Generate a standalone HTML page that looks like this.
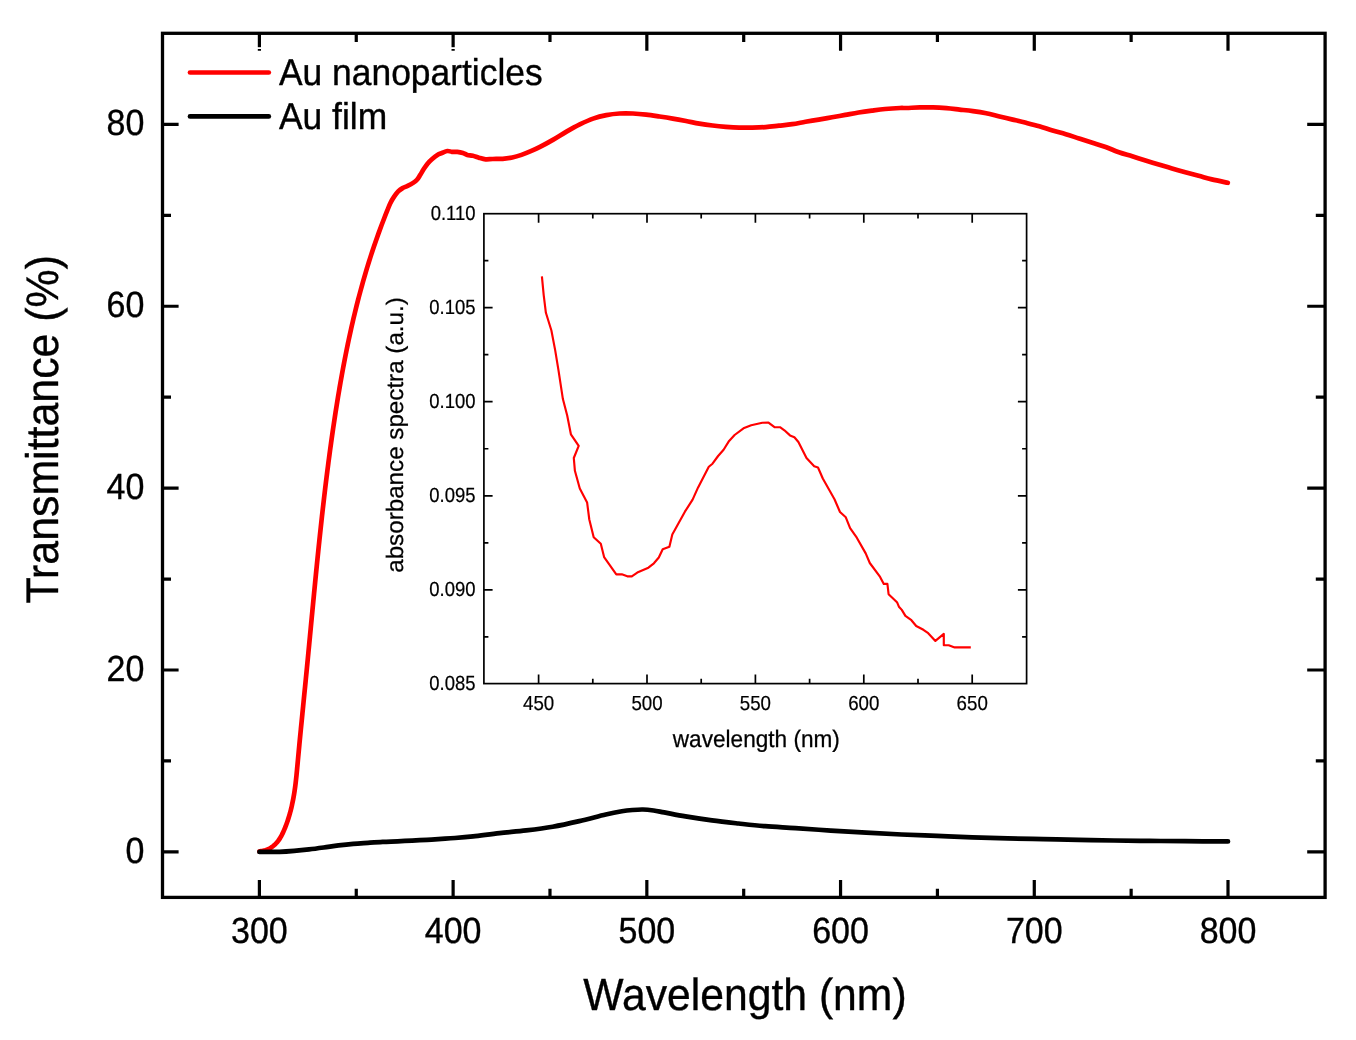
<!DOCTYPE html>
<html lang="en"><head><meta charset="utf-8"><title>Transmittance spectra</title>
<style>html,body{margin:0;padding:0;background:#fff}body{width:1356px;height:1040px;overflow:hidden}svg{display:block}text{font-family:"Liberation Sans",Arial,sans-serif;fill:#000;text-rendering:geometricPrecision}</style></head><body>
<svg width="1356" height="1040" viewBox="0 0 1356 1040">
<rect width="1356" height="1040" fill="#fff"/>
<path d="M259.40 897.40 V880.00 M259.40 33.30 V50.70 M356.26 897.40 V888.70 M356.26 33.30 V42.00 M453.12 897.40 V880.00 M453.12 33.30 V50.70 M549.98 897.40 V888.70 M549.98 33.30 V42.00 M646.84 897.40 V880.00 M646.84 33.30 V50.70 M743.70 897.40 V888.70 M743.70 33.30 V42.00 M840.56 897.40 V880.00 M840.56 33.30 V50.70 M937.42 897.40 V888.70 M937.42 33.30 V42.00 M1034.28 897.40 V880.00 M1034.28 33.30 V50.70 M1131.14 897.40 V888.70 M1131.14 33.30 V42.00 M1228.00 897.40 V880.00 M1228.00 33.30 V50.70 M162.50 851.90 H178.60 M1325.10 851.90 H1307.20 M162.50 760.96 H171.00 M1325.10 760.96 H1315.80 M162.50 670.02 H178.60 M1325.10 670.02 H1307.20 M162.50 579.08 H171.00 M1325.10 579.08 H1315.80 M162.50 488.14 H178.60 M1325.10 488.14 H1307.20 M162.50 397.20 H171.00 M1325.10 397.20 H1315.80 M162.50 306.26 H178.60 M1325.10 306.26 H1307.20 M162.50 215.32 H171.00 M1325.10 215.32 H1315.80 M162.50 124.38 H178.60 M1325.10 124.38 H1307.20" stroke="#000" stroke-width="3.2" fill="none"/>
<rect x="250" y="47.2" width="220" height="1.8" fill="#fff"/>
<rect x="162.50" y="33.30" width="1162.60" height="864.10" fill="none" stroke="#000" stroke-width="3.30"/>
<path d="M259.40 851.30 C259.67 851.28 260.49 851.23 261.02 851.17 C261.55 851.11 262.08 851.04 262.59 850.94 C263.11 850.85 263.61 850.74 264.11 850.62 C264.60 850.50 265.09 850.36 265.57 850.21 C266.05 850.06 266.52 849.89 266.98 849.71 C267.44 849.53 267.90 849.33 268.34 849.13 C268.79 848.92 269.22 848.70 269.65 848.46 C270.08 848.23 270.49 847.98 270.90 847.73 C271.31 847.47 271.71 847.20 272.10 846.92 C272.50 846.64 272.88 846.34 273.25 846.04 C273.63 845.74 273.99 845.43 274.35 845.10 C274.71 844.78 275.06 844.45 275.40 844.10 C275.74 843.76 276.07 843.41 276.39 843.05 C276.71 842.69 277.03 842.32 277.33 841.95 C277.64 841.57 277.94 841.19 278.23 840.80 C278.52 840.40 278.80 840.01 279.07 839.60 C279.35 839.20 279.62 838.78 279.88 838.37 C280.14 837.95 280.40 837.53 280.64 837.10 C280.89 836.67 281.14 836.24 281.37 835.80 C281.61 835.36 281.84 834.92 282.07 834.47 C282.30 834.02 282.52 833.57 282.74 833.12 C282.95 832.67 283.17 832.21 283.37 831.75 C283.58 831.29 283.79 830.83 283.99 830.36 C284.19 829.90 284.39 829.43 284.58 828.97 C284.77 828.50 284.96 828.03 285.15 827.56 C285.34 827.09 285.53 826.62 285.71 826.15 C285.89 825.68 286.07 825.21 286.25 824.73 C286.42 824.26 286.60 823.78 286.77 823.31 C286.94 822.83 287.11 822.36 287.27 821.88 C287.44 821.40 287.60 820.93 287.76 820.45 C287.92 819.97 288.08 819.49 288.23 819.01 C288.39 818.53 288.54 818.05 288.69 817.56 C288.84 817.08 288.99 816.60 289.13 816.12 C289.28 815.63 289.42 815.15 289.56 814.66 C289.70 814.18 289.83 813.69 289.97 813.21 C290.10 812.72 290.23 812.23 290.36 811.75 C290.49 811.26 290.62 810.77 290.75 810.28 C290.87 809.79 290.99 809.31 291.11 808.82 C291.24 808.33 291.35 807.84 291.47 807.35 C291.59 806.86 291.49 807.40 291.81 805.88 C292.13 804.36 292.91 800.78 293.38 798.23 C293.85 795.68 294.26 793.13 294.64 790.57 C295.02 788.01 295.35 785.46 295.65 782.90 C295.96 780.35 296.23 777.79 296.50 775.23 C296.76 772.67 296.99 770.11 297.23 767.55 C297.47 764.99 297.70 762.43 297.94 759.87 C298.17 757.31 298.41 754.75 298.65 752.19 C298.89 749.62 299.14 747.06 299.38 744.50 C299.62 741.93 299.87 739.37 300.12 736.80 C300.37 734.24 300.62 731.67 300.87 729.10 C301.12 726.54 301.37 723.97 301.63 721.40 C301.88 718.83 302.13 716.26 302.39 713.69 C302.64 711.13 302.90 708.56 303.16 705.98 C303.41 703.41 303.67 700.84 303.92 698.27 C304.18 695.70 304.44 693.12 304.69 690.55 C304.95 687.98 305.20 685.40 305.46 682.83 C305.71 680.25 305.96 677.68 306.22 675.10 C306.47 672.52 306.72 669.95 306.97 667.37 C307.22 664.79 307.47 662.21 307.72 659.63 C307.97 657.06 308.22 654.48 308.46 651.90 C308.71 649.32 308.96 646.74 309.20 644.16 C309.45 641.57 309.70 638.99 309.94 636.41 C310.19 633.83 310.44 631.25 310.68 628.67 C310.93 626.08 311.17 623.50 311.42 620.92 C311.67 618.34 311.91 615.75 312.16 613.17 C312.41 610.59 312.65 608.00 312.90 605.42 C313.15 602.84 313.40 600.25 313.65 597.67 C313.89 595.09 314.14 592.50 314.40 589.92 C314.65 587.33 314.90 584.75 315.15 582.17 C315.40 579.58 315.66 577.00 315.91 574.42 C316.17 571.83 316.43 569.25 316.68 566.67 C316.94 564.09 317.20 561.50 317.46 558.92 C317.73 556.34 317.99 553.76 318.25 551.17 C318.52 548.59 318.79 546.01 319.06 543.43 C319.33 540.85 319.60 538.27 319.87 535.69 C320.14 533.11 320.42 530.53 320.70 527.95 C320.98 525.37 321.26 522.79 321.54 520.21 C321.83 517.63 322.11 515.06 322.40 512.48 C322.69 509.90 322.98 507.33 323.28 504.75 C323.57 502.17 323.87 499.60 324.17 497.03 C324.47 494.45 324.78 491.88 325.09 489.31 C325.40 486.73 325.71 484.16 326.02 481.59 C326.34 479.02 326.66 476.45 326.98 473.88 C327.30 471.31 327.63 468.75 327.96 466.18 C328.29 463.61 328.62 461.05 328.96 458.48 C329.30 455.92 329.64 453.35 329.99 450.79 C330.34 448.23 330.69 445.67 331.05 443.11 C331.40 440.55 331.76 437.99 332.13 435.43 C332.49 432.87 332.86 430.32 333.24 427.76 C333.62 425.21 334.00 422.66 334.38 420.10 C334.77 417.55 335.16 415.00 335.55 412.45 C335.95 409.90 336.35 407.35 336.76 404.81 C337.16 402.26 337.58 399.72 338.00 397.18 C338.41 394.63 338.84 392.09 339.27 389.55 C339.70 387.01 340.14 384.47 340.59 381.94 C341.03 379.40 341.48 376.87 341.94 374.33 C342.40 371.80 342.87 369.27 343.34 366.74 C343.82 364.21 344.30 361.68 344.79 359.16 C345.28 356.63 345.78 354.11 346.28 351.59 C346.79 349.07 347.31 346.55 347.83 344.03 C348.36 341.51 348.89 339.00 349.43 336.48 C349.98 333.97 350.53 331.46 351.09 328.95 C351.65 326.44 352.23 323.94 352.81 321.43 C353.39 318.93 353.98 316.42 354.59 313.93 C355.19 311.43 355.80 308.93 356.43 306.43 C357.05 303.94 357.69 301.44 358.34 298.95 C358.99 296.46 359.64 293.98 360.32 291.49 C360.99 289.00 361.67 286.52 362.36 284.04 C363.06 281.56 363.77 279.08 364.49 276.61 C365.21 274.13 365.94 271.66 366.68 269.19 C367.43 266.72 368.19 264.25 368.96 261.79 C369.73 259.32 370.52 256.86 371.32 254.40 C372.12 251.94 372.93 249.49 373.76 247.03 C374.59 244.58 375.43 242.13 376.29 239.68 C377.14 237.23 378.02 234.79 378.90 232.35 C379.79 229.91 380.69 227.47 381.61 225.03 C382.53 222.60 383.46 220.17 384.41 217.74 C385.36 215.31 386.32 212.88 387.31 210.46 C388.29 208.04 389.13 205.54 390.30 203.20 C391.47 200.86 392.98 198.37 394.30 196.40 C395.62 194.43 396.82 192.78 398.20 191.40 C399.58 190.02 401.03 189.02 402.60 188.10 C404.17 187.18 405.85 186.77 407.60 185.90 C409.35 185.03 411.53 183.92 413.10 182.90 C414.67 181.88 415.80 181.15 417.00 179.80 C418.20 178.45 419.20 176.55 420.30 174.80 C421.40 173.05 422.40 171.15 423.60 169.30 C424.80 167.45 426.12 165.37 427.50 163.70 C428.88 162.03 430.25 160.77 431.90 159.30 C433.55 157.83 435.73 155.95 437.40 154.90 C439.07 153.85 440.23 153.65 441.90 153.00 C443.57 152.35 445.75 151.20 447.40 151.00 C449.05 150.80 450.15 151.65 451.80 151.80 C453.45 151.95 455.45 151.70 457.30 151.90 C459.15 152.10 461.23 152.50 462.90 153.00 C464.57 153.50 465.65 154.45 467.30 154.90 C468.95 155.35 470.87 155.23 472.80 155.70 C474.73 156.17 476.77 157.10 478.90 157.70 C481.03 158.30 483.30 159.08 485.60 159.30 C487.90 159.52 489.85 159.08 492.70 159.00 C495.55 158.92 499.43 159.05 502.70 158.80 C505.97 158.55 509.17 158.15 512.30 157.50 C515.43 156.85 518.42 155.95 521.50 154.90 C524.58 153.85 527.72 152.53 530.80 151.20 C533.88 149.87 536.25 148.83 540.00 146.90 C543.75 144.97 548.88 142.15 553.30 139.60 C557.72 137.05 562.08 134.13 566.50 131.60 C570.92 129.07 575.37 126.57 579.80 124.40 C584.23 122.23 588.67 120.15 593.10 118.60 C597.53 117.05 601.98 115.95 606.40 115.10 C610.82 114.25 615.18 113.77 619.60 113.50 C624.02 113.23 628.47 113.32 632.90 113.50 C637.33 113.68 641.77 114.10 646.20 114.60 C650.63 115.10 655.08 115.83 659.50 116.50 C663.92 117.17 668.28 117.85 672.70 118.60 C677.12 119.35 681.57 120.17 686.00 121.00 C690.43 121.83 694.87 122.85 699.30 123.60 C703.73 124.35 708.18 124.97 712.60 125.50 C717.02 126.03 721.38 126.45 725.80 126.80 C730.22 127.15 734.67 127.47 739.10 127.60 C743.53 127.73 747.98 127.68 752.40 127.60 C756.82 127.52 761.18 127.42 765.60 127.10 C770.02 126.78 774.47 126.18 778.90 125.70 C783.33 125.22 787.77 124.85 792.20 124.20 C796.63 123.55 801.08 122.57 805.50 121.80 C809.92 121.03 814.28 120.35 818.70 119.60 C823.12 118.85 827.57 118.08 832.00 117.30 C836.43 116.52 840.87 115.70 845.30 114.90 C849.73 114.10 854.18 113.22 858.60 112.50 C863.02 111.78 867.38 111.18 871.80 110.60 C876.22 110.02 880.40 109.43 885.10 109.00 C889.80 108.57 896.43 108.17 900.00 108.00 C903.57 107.83 903.20 108.10 906.50 108.00 C909.80 107.90 915.37 107.50 919.80 107.40 C924.23 107.30 928.67 107.27 933.10 107.40 C937.53 107.53 941.98 107.83 946.40 108.20 C950.82 108.57 955.18 109.12 959.60 109.60 C964.02 110.08 968.47 110.48 972.90 111.10 C977.33 111.72 981.77 112.40 986.20 113.30 C990.63 114.20 995.08 115.45 999.50 116.50 C1003.92 117.55 1008.28 118.55 1012.70 119.60 C1017.12 120.65 1021.57 121.68 1026.00 122.80 C1030.43 123.92 1034.87 125.02 1039.30 126.30 C1043.73 127.58 1048.18 129.18 1052.60 130.50 C1057.02 131.82 1061.38 132.87 1065.80 134.20 C1070.22 135.53 1074.67 137.08 1079.10 138.50 C1083.53 139.92 1087.98 141.28 1092.40 142.70 C1096.82 144.12 1101.18 145.40 1105.60 147.00 C1110.02 148.60 1114.47 150.75 1118.90 152.30 C1123.33 153.85 1127.77 154.93 1132.20 156.30 C1136.63 157.67 1141.08 159.13 1145.50 160.50 C1149.92 161.87 1154.28 163.17 1158.70 164.50 C1163.12 165.83 1167.57 167.22 1172.00 168.50 C1176.43 169.78 1180.87 171.00 1185.30 172.20 C1189.73 173.40 1194.18 174.50 1198.60 175.70 C1203.02 176.90 1206.93 178.22 1211.80 179.40 C1216.67 180.58 1225.13 182.23 1227.80 182.80" fill="none" stroke="#ff0000" stroke-width="4.7" stroke-linecap="round" stroke-linejoin="round"/>
<path d="M259.40 851.90 C261.17 851.90 266.65 851.90 270.00 851.90 C273.35 851.90 275.47 852.07 279.50 851.90 C283.53 851.73 289.28 851.32 294.20 850.90 C299.12 850.48 304.08 849.97 309.00 849.40 C313.92 848.83 318.78 848.17 323.70 847.50 C328.62 846.83 333.58 846.02 338.50 845.40 C343.42 844.78 348.28 844.23 353.20 843.80 C358.12 843.37 363.08 843.12 368.00 842.80 C372.92 842.48 377.78 842.15 382.70 841.90 C387.62 841.65 392.58 841.52 397.50 841.30 C402.42 841.08 407.28 840.85 412.20 840.60 C417.12 840.35 422.08 840.08 427.00 839.80 C431.92 839.52 437.03 839.20 441.70 838.90 C446.37 838.60 449.77 838.43 455.00 838.00 C460.23 837.57 465.67 837.12 473.10 836.30 C480.53 835.48 490.75 834.08 499.60 833.10 C508.45 832.12 517.35 831.47 526.20 830.40 C535.05 829.33 543.85 828.25 552.70 826.70 C561.55 825.15 570.45 823.13 579.30 821.10 C588.15 819.07 598.72 816.13 605.80 814.50 C612.88 812.87 617.37 812.05 621.80 811.30 C626.23 810.55 628.87 810.30 632.40 810.00 C635.93 809.70 639.47 809.42 643.00 809.50 C646.53 809.58 650.07 810.02 653.60 810.50 C657.13 810.98 658.88 811.42 664.20 812.40 C669.52 813.38 677.53 815.07 685.50 816.40 C693.47 817.73 703.15 819.22 712.00 820.40 C720.85 821.58 729.75 822.53 738.60 823.50 C747.45 824.47 755.63 825.43 765.10 826.20 C774.57 826.97 784.45 827.37 795.40 828.10 C806.35 828.83 819.00 829.83 830.80 830.60 C842.60 831.37 854.40 832.05 866.20 832.70 C878.00 833.35 889.80 833.97 901.60 834.50 C913.40 835.03 925.20 835.43 937.00 835.90 C948.80 836.37 960.60 836.88 972.40 837.30 C984.20 837.72 996.00 838.10 1007.80 838.40 C1019.60 838.70 1031.40 838.87 1043.20 839.10 C1055.00 839.33 1066.80 839.57 1078.60 839.80 C1090.40 840.03 1102.20 840.32 1114.00 840.50 C1125.80 840.68 1137.60 840.78 1149.40 840.90 C1161.20 841.02 1171.70 841.12 1184.80 841.20 C1197.90 841.28 1220.80 841.37 1228.00 841.40" fill="none" stroke="#000" stroke-width="4.7" stroke-linecap="round" stroke-linejoin="round"/>
<path d="M190 72.5 H268.8" stroke="#ff0000" stroke-width="4.7" stroke-linecap="round"/>
<path d="M190 116.4 H268.8" stroke="#000" stroke-width="4.7" stroke-linecap="round"/>
<text transform="translate(279.00 84.80) scale(1.0000 1.0550)" font-size="35.40" text-anchor="start" stroke="#000" stroke-width="0.35">Au nanoparticles</text>
<text transform="translate(279.00 128.70) scale(1.0000 1.0550)" font-size="35.40" text-anchor="start" stroke="#000" stroke-width="0.35">Au film</text>
<text transform="translate(144.30 862.80) scale(1.0000 1.0700)" font-size="34.00" text-anchor="end" stroke="#000" stroke-width="0.35">0</text>
<text transform="translate(144.30 680.92) scale(1.0000 1.0700)" font-size="34.00" text-anchor="end" stroke="#000" stroke-width="0.35">20</text>
<text transform="translate(144.30 499.04) scale(1.0000 1.0700)" font-size="34.00" text-anchor="end" stroke="#000" stroke-width="0.35">40</text>
<text transform="translate(144.30 317.16) scale(1.0000 1.0700)" font-size="34.00" text-anchor="end" stroke="#000" stroke-width="0.35">60</text>
<text transform="translate(144.30 135.28) scale(1.0000 1.0700)" font-size="34.00" text-anchor="end" stroke="#000" stroke-width="0.35">80</text>
<text transform="translate(259.40 942.80) scale(1.0000 1.0700)" font-size="34.00" text-anchor="middle" stroke="#000" stroke-width="0.35">300</text>
<text transform="translate(453.12 942.80) scale(1.0000 1.0700)" font-size="34.00" text-anchor="middle" stroke="#000" stroke-width="0.35">400</text>
<text transform="translate(646.84 942.80) scale(1.0000 1.0700)" font-size="34.00" text-anchor="middle" stroke="#000" stroke-width="0.35">500</text>
<text transform="translate(840.56 942.80) scale(1.0000 1.0700)" font-size="34.00" text-anchor="middle" stroke="#000" stroke-width="0.35">600</text>
<text transform="translate(1034.28 942.80) scale(1.0000 1.0700)" font-size="34.00" text-anchor="middle" stroke="#000" stroke-width="0.35">700</text>
<text transform="translate(1228.00 942.80) scale(1.0000 1.0700)" font-size="34.00" text-anchor="middle" stroke="#000" stroke-width="0.35">800</text>
<text transform="translate(744.90 1010.10) scale(1.0000 1.0550)" font-size="42.70" text-anchor="middle" stroke="#000" stroke-width="0.35">Wavelength (nm)</text>
<text transform="translate(58.20 429.30) rotate(-90) scale(1.0000 1.0640)" font-size="42.87" text-anchor="middle" stroke="#000" stroke-width="0.35">Transmittance (%)</text>
<rect x="483.90" y="213.70" width="542.70" height="469.90" fill="#fff" stroke="none"/>
<path d="M538.60 683.60 V674.60 M538.60 213.70 V222.70 M592.80 683.60 V678.80 M592.80 213.70 V218.50 M647.00 683.60 V674.60 M647.00 213.70 V222.70 M701.20 683.60 V678.80 M701.20 213.70 V218.50 M755.40 683.60 V674.60 M755.40 213.70 V222.70 M809.60 683.60 V678.80 M809.60 213.70 V218.50 M863.80 683.60 V674.60 M863.80 213.70 V222.70 M918.00 683.60 V678.80 M918.00 213.70 V218.50 M972.20 683.60 V674.60 M972.20 213.70 V222.70 M483.90 636.95 H488.40 M1026.60 636.95 H1022.10 M483.90 589.90 H492.60 M1026.60 589.90 H1017.90 M483.90 542.85 H488.40 M1026.60 542.85 H1022.10 M483.90 495.80 H492.60 M1026.60 495.80 H1017.90 M483.90 448.75 H488.40 M1026.60 448.75 H1022.10 M483.90 401.70 H492.60 M1026.60 401.70 H1017.90 M483.90 354.65 H488.40 M1026.60 354.65 H1022.10 M483.90 307.60 H492.60 M1026.60 307.60 H1017.90 M483.90 260.55 H488.40 M1026.60 260.55 H1022.10" stroke="#000" stroke-width="1.7" fill="none"/>
<rect x="483.90" y="213.70" width="542.70" height="469.90" fill="none" stroke="#000" stroke-width="1.70"/>
<path d="M541.90 276.30 L543.70 295.10 L545.90 312.80 L551.40 330.50 L555.20 350.40 L558.50 370.40 L562.90 399.10 L567.20 415.50 L570.90 434.30 L578.70 445.80 L573.80 458.00 L574.90 470.80 L579.80 488.50 L587.10 502.40 L589.30 519.50 L593.70 537.20 L600.80 543.80 L604.10 557.10 L616.30 574.30 L621.80 574.30 L627.30 576.30 L631.80 576.30 L637.30 572.60 L648.40 567.70 L653.90 563.30 L658.80 557.50 L662.70 549.30 L669.40 546.70 L672.30 534.50 L684.90 511.70 L692.60 499.60 L698.10 487.40 L708.80 466.80 L712.50 463.70 L718.10 456.00 L723.60 449.80 L729.10 440.90 L734.60 435.00 L743.50 428.30 L751.20 425.20 L762.30 422.80 L768.50 422.60 L774.50 427.20 L780.00 427.20 L784.40 430.30 L790.00 435.40 L794.40 437.20 L798.40 442.00 L806.50 458.00 L814.20 466.30 L818.00 467.50 L822.80 478.50 L834.50 499.30 L840.00 512.00 L845.80 517.30 L850.10 528.10 L856.80 537.70 L865.70 553.40 L869.80 563.00 L880.10 576.90 L883.80 583.90 L887.40 583.90 L888.60 594.20 L897.00 602.20 L898.90 606.70 L901.80 609.90 L905.40 615.90 L911.40 620.20 L916.20 626.00 L923.40 629.80 L928.20 633.20 L935.40 640.90 L943.80 633.90 L943.80 645.20 L948.70 645.20 L954.70 647.40 L970.80 647.40" fill="none" stroke="#ff0000" stroke-width="2.15" stroke-linejoin="round" stroke-linecap="butt"/>
<text transform="translate(475.50 690.30) scale(1.0000 1.1050)" font-size="18.45" text-anchor="end" stroke="#000" stroke-width="0.20">0.085</text>
<text transform="translate(475.50 596.20) scale(1.0000 1.1050)" font-size="18.45" text-anchor="end" stroke="#000" stroke-width="0.20">0.090</text>
<text transform="translate(475.50 502.10) scale(1.0000 1.1050)" font-size="18.45" text-anchor="end" stroke="#000" stroke-width="0.20">0.095</text>
<text transform="translate(475.50 408.00) scale(1.0000 1.1050)" font-size="18.45" text-anchor="end" stroke="#000" stroke-width="0.20">0.100</text>
<text transform="translate(475.50 313.90) scale(1.0000 1.1050)" font-size="18.45" text-anchor="end" stroke="#000" stroke-width="0.20">0.105</text>
<text transform="translate(475.50 219.80) scale(1.0000 1.1050)" font-size="18.45" text-anchor="end" stroke="#000" stroke-width="0.20">0.110</text>
<text transform="translate(538.60 709.60) scale(1.0000 1.0900)" font-size="18.70" text-anchor="middle" stroke="#000" stroke-width="0.20">450</text>
<text transform="translate(647.00 709.60) scale(1.0000 1.0900)" font-size="18.70" text-anchor="middle" stroke="#000" stroke-width="0.20">500</text>
<text transform="translate(755.40 709.60) scale(1.0000 1.0900)" font-size="18.70" text-anchor="middle" stroke="#000" stroke-width="0.20">550</text>
<text transform="translate(863.80 709.60) scale(1.0000 1.0900)" font-size="18.70" text-anchor="middle" stroke="#000" stroke-width="0.20">600</text>
<text transform="translate(972.20 709.60) scale(1.0000 1.0900)" font-size="18.70" text-anchor="middle" stroke="#000" stroke-width="0.20">650</text>
<text transform="translate(756.30 746.80) scale(1.0000 1.0600)" font-size="22.60" text-anchor="middle" stroke="#000" stroke-width="0.25">wavelength (nm)</text>
<text transform="translate(402.80 435.00) rotate(-90) scale(1.0000 0.9800)" font-size="24.20" text-anchor="middle" stroke="#000" stroke-width="0.25">absorbance spectra (a.u.)</text>
</svg></body></html>
